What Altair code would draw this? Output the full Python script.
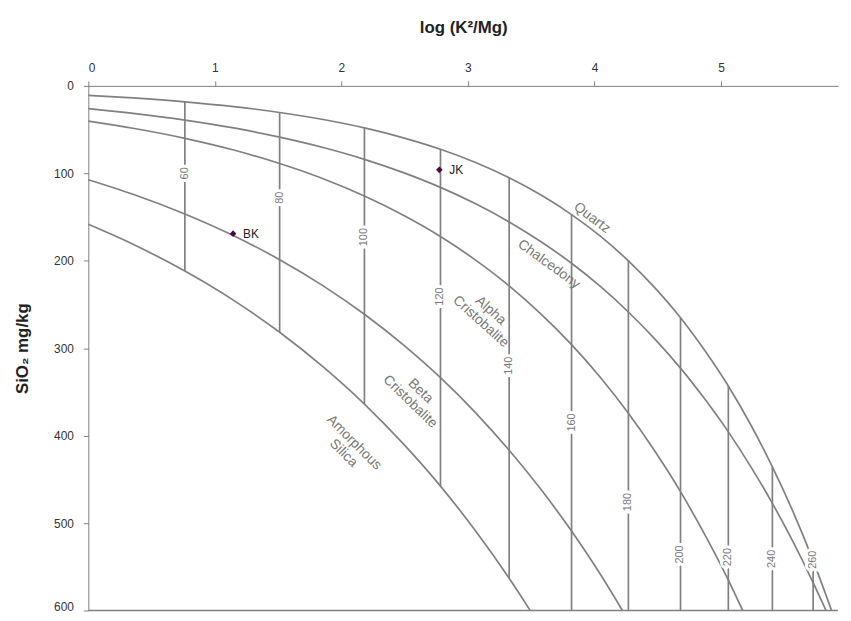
import altair as alt
import pandas as pd

# ---- curves: x = log(K2/Mg), y = SiO2 mg/kg ----
quartz_x = [0.000, 0.353, 0.763, 1.149, 1.512, 1.856, 2.182, 2.490, 2.783, 3.061, 3.326, 3.578,
            3.819, 4.049, 4.268, 4.478, 4.680, 4.872, 5.058, 5.235, 5.406, 5.570, 5.728, 5.874]
quartz_y = [10.8, 13.8, 18.2, 23.7, 30.4, 38.5, 48.1, 59.4, 72.5, 87.7, 105.1, 124.9,
            147.2, 172.2, 200.1, 231.0, 265.1, 302.6, 343.2, 387.6, 435.7, 487.3, 543.0, 600.0]

chalc_x = [0.000, 0.353, 0.763, 1.149, 1.512, 1.856, 2.182, 2.490, 2.783, 3.061, 3.326, 3.578,
           3.819, 4.049, 4.268, 4.478, 4.680, 4.872, 5.058, 5.235, 5.406, 5.570, 5.728, 5.830]
chalc_y = [25.9, 31.4, 39.1, 48.1, 58.6, 70.5, 84.0, 99.2, 116.1, 134.9, 155.6, 178.3,
           202.9, 229.7, 258.6, 289.6, 322.8, 358.2, 395.7, 435.4, 477.4, 521.6, 568.1, 600.0]

alpha_x = [0.000, 0.353, 0.763, 1.149, 1.512, 1.856, 2.182, 2.490, 2.783, 3.061, 3.326, 3.578,
           3.819, 4.049, 4.268, 4.478, 4.680, 4.872, 5.058, 5.172]
alpha_y = [40.3, 48.5, 60.0, 73.4, 88.8, 106.2, 126.0, 148.0, 172.3, 199.3, 228.8, 261.1,
           296.0, 333.8, 374.4, 417.8, 464.0, 513.3, 565.2, 600.0]

beta_x = [0.000, 0.353, 0.763, 1.149, 1.512, 1.856, 2.182, 2.490, 2.783, 3.061, 3.326, 3.578,
          3.819, 4.049, 4.221]
beta_y = [107.3, 123.9, 146.5, 171.4, 198.8, 228.7, 261.2, 296.3, 333.8, 373.9, 416.7, 461.7,
          509.2, 559.2, 600.0]

amorph_x = [0.000, 0.353, 0.763, 1.149, 1.512, 1.856, 2.182, 2.490, 2.783, 3.061, 3.326, 3.492]
amorph_y = [158.3, 181.1, 211.8, 245.3, 281.8, 321.4, 363.9, 409.5, 457.8, 509.1, 563.2, 600.0]

# ---- isotherms (vertical lines) ----
temps = ["60", "80", "100", "120", "140", "160", "180", "200", "220", "240", "260"]
temp_x = [0.763, 1.512, 2.182, 2.783, 3.326, 3.819, 4.268, 4.680, 5.058, 5.406, 5.728]
temp_top = [18.2, 30.4, 48.1, 72.5, 105.1, 147.2, 200.1, 265.1, 343.2, 435.7, 543.0]
temp_bottom = [211.8, 281.8, 363.9, 457.8, 563.2, 600, 600, 600, 600, 600, 600]
temp_label_y = [100, 128, 173, 241, 320, 385, 476, 536, 539, 541, 542]

# ---- curve labels ----
curve_labels = ["Quartz", "Chalcedony", "Alpha\nCristobalite", "Beta\nCristobalite", "Amorphous\nSilica"]
curve_label_x = [3.98, 3.64, 3.18, 2.625, 2.10]
curve_label_y = [151, 204, 257, 349, 408]
curve_label_angle = [37, 36, 42, 44, 45]

# ---- samples ----
samples = ["BK", "JK"]
sample_x = [1.144, 2.774]
sample_y = [169, 96]

x_ticks = [0, 1, 2, 3, 4, 5]
y_ticks = [0, 100, 200, 300, 400, 500, 600]

FONT = "Liberation Sans"
LINE = "#808080"

rows = []
for name, xs, ys in [("Quartz", quartz_x, quartz_y), ("Chalcedony", chalc_x, chalc_y),
                     ("Alpha", alpha_x, alpha_y), ("Beta", beta_x, beta_y),
                     ("Amorphous", amorph_x, amorph_y)]:
    for i, (a, b) in enumerate(zip(xs, ys)):
        rows.append({"curve": name, "i": i, "x": a, "y": b})
curves = pd.DataFrame(rows)

iso = pd.DataFrame({"t": temps, "x": temp_x, "y": temp_top, "y2": temp_bottom, "ly": temp_label_y})
clab = pd.DataFrame({"t": curve_labels, "x": curve_label_x, "y": curve_label_y, "a": curve_label_angle})
pts = pd.DataFrame({"s": samples, "x": sample_x, "y": sample_y})

xscale = alt.Scale(domain=[0, 5.925], nice=False, zero=False)
yscale = alt.Scale(domain=[0, 600], reverse=True, nice=False)

xax = alt.Axis(orient="top", values=x_ticks, format="d", title="log (K²/Mg)", grid=False,
               domainColor=LINE, tickColor=LINE, tickSize=5, labelPadding=7,
               labelFont=FONT, labelFontSize=12, labelColor="#333333",
               titleFont=FONT, titleFontSize=17, titleFontWeight="bold", titleColor="#222222",
               titlePadding=25)
yax = alt.Axis(orient="left", values=y_ticks, format="d", title="SiO₂ mg/kg", grid=False,
               domainColor=LINE, tickColor=LINE, tickSize=5, labelPadding=10,
               labelBaseline=alt.ExprRef(expr="datum.value == 600 ? 'alphabetic' : 'middle'"),
               labelFont=FONT, labelFontSize=12, labelColor="#333333",
               titleFont=FONT, titleFontSize=17, titleFontWeight="bold", titleColor="#222222",
               titlePadding=22)

X = alt.X("x:Q", scale=xscale, axis=xax)
Y = alt.Y("y:Q", scale=yscale, axis=yax)

lines = alt.Chart(curves).mark_line(color=LINE, strokeWidth=1.7, interpolate="monotone").encode(
    x=X, y=Y, detail="curve:N", order="i:Q")

rules = alt.Chart(iso).mark_rule(color=LINE, strokeWidth=1.7).encode(
    x=alt.X("x:Q", scale=xscale), y=alt.Y("y:Q", scale=yscale), y2="y2:Q")

halo = alt.Chart(iso).mark_text(font=FONT, fontSize=11, angle=270, fill="white",
                                stroke="white", strokeWidth=6).encode(
    x=alt.X("x:Q", scale=xscale), y=alt.Y("ly:Q", scale=yscale), text="t:N")
tlabels = alt.Chart(iso).mark_text(font=FONT, fontSize=11, angle=270, color="#777777").encode(
    x=alt.X("x:Q", scale=xscale), y=alt.Y("ly:Q", scale=yscale), text="t:N")

clabels = alt.Chart(clab).mark_text(font=FONT, fontSize=14, color="#777777", lineBreak="\n",
                                    lineHeight=15).encode(
    x=alt.X("x:Q", scale=xscale), y=alt.Y("y:Q", scale=yscale), text="t:N",
    angle=alt.Angle("a:Q", scale=None))

bottom = alt.Chart(pd.DataFrame({"y": [600]})).mark_rule(color=LINE, strokeWidth=1.7).encode(
    y=alt.Y("y:Q", scale=yscale), x=alt.value(0), x2=alt.value(756))

markers = alt.Chart(pts).mark_point(shape="diamond", filled=True, size=45, color="#4a0a4a", opacity=1).encode(
    x=alt.X("x:Q", scale=xscale), y=alt.Y("y:Q", scale=yscale))
plabels = alt.Chart(pts).mark_text(font=FONT, fontSize=12, color="#222222", align="left", dx=10).encode(
    x=alt.X("x:Q", scale=xscale), y=alt.Y("y:Q", scale=yscale), text="s:N")

chart = alt.layer(lines, rules, bottom, halo, tlabels, clabels, markers, plabels).properties(
    width=756, height=529,
    autosize=alt.AutoSizeParams(type="none"),
    padding={"left": 81, "top": 76, "right": 5, "bottom": 0},
    background="white",
).configure_view(stroke=None)

chart.save("out.html", embed_options={"renderer": "svg", "actions": False})
